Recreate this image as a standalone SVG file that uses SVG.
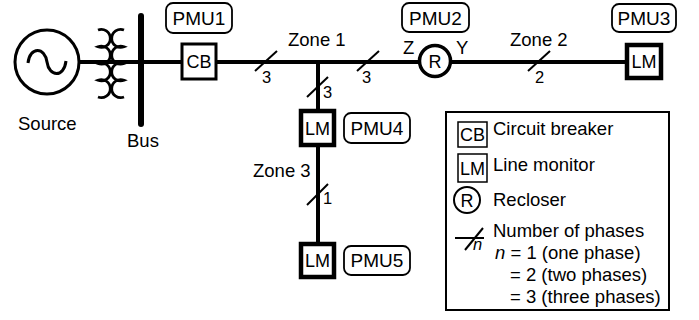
<svg xmlns="http://www.w3.org/2000/svg" width="699" height="320" viewBox="0 0 699 320">
<style>
text{font-family:"Liberation Sans",Arial,sans-serif;fill:#000}
.t{font-size:18.5px}
.b{font-size:18px;text-anchor:middle}
.p{font-size:19px;text-anchor:middle}
.n{font-size:16.5px}
.line{stroke:#000;stroke-width:4;fill:none}
.tick{stroke:#000;stroke-width:2;fill:none}
.pmu{fill:#fff;stroke:#000;stroke-width:1.8}
.cb{fill:#fff;stroke:#000;stroke-width:3}
.lm{fill:#fff;stroke:#000;stroke-width:4.5}
.coil{stroke:#000;stroke-width:2.8;fill:none}
</style>
<g id="connectors">
<line class="line" x1="79" y1="62" x2="182" y2="62"/>
<line class="line" x1="216" y1="62" x2="420" y2="62"/>
<line class="line" x1="450" y1="62" x2="627" y2="62"/>
<line class="line" x1="318" y1="62" x2="318" y2="111"/>
<line class="line" x1="318" y1="145" x2="318" y2="244"/>
<line class="tick" x1="255" y1="71" x2="277" y2="51"/>
<text class="n" x="262" y="83">3</text>
<line class="tick" x1="357" y1="71" x2="379" y2="51"/>
<text class="n" x="362" y="83">3</text>
<line class="tick" x1="528" y1="71" x2="550" y2="51"/>
<text class="n" x="535" y="83">2</text>
<line class="tick" x1="307" y1="97" x2="328" y2="77"/>
<text class="n" x="323" y="98">3</text>
<line class="tick" x1="307" y1="205" x2="328" y2="184"/>
<text class="n" x="323" y="204">1</text>
<text class="t" x="288" y="46">Zone 1</text>
<text class="t" x="510" y="46">Zone 2</text>
<text class="t" x="253" y="177">Zone 3</text>
</g>
<g id="source">
<circle cx="47" cy="62" r="32" fill="#fff" stroke="#000" stroke-width="3"/>
<path d="M28 63 C30 46 45 47 47 62 C49 77 64 78 66 61" fill="none" stroke="#000" stroke-width="3"/>
<text class="t" x="18" y="130">Source</text>
</g>
<g id="transformer">
<path class="coil" d="M98 30 A9 9 0 1 1 98 46.75 A9 9 0 1 1 98 63.5 A9 9 0 1 1 98 80.25 A9 9 0 1 1 98 97"/>
<path class="coil" d="M124 30 A9 9 0 1 0 124 46.75 A9 9 0 1 0 124 63.5 A9 9 0 1 0 124 80.25 A9 9 0 1 0 124 97"/>
</g>
<g id="bus">
<line x1="141" y1="16" x2="141" y2="124" stroke="#000" stroke-width="6" stroke-linecap="round"/>
<text class="t" x="127" y="147">Bus</text>
</g>
<g id="cb">
<rect class="cb" x="182" y="44" width="34" height="35"/>
<text class="b" x="199" y="68">CB</text>
</g>
<g id="pmu1">
<rect class="pmu" x="166" y="3" width="66" height="30" rx="7"/>
<text class="p" x="199" y="25">PMU1</text>
</g>
<g id="recloser">
<circle cx="435" cy="61" r="15.5" fill="#fff" stroke="#000" stroke-width="3.5"/>
<text class="b" x="435" y="67.5">R</text>
<text class="t" x="403" y="54">Z</text>
<text class="t" x="456" y="54">Y</text>
</g>
<g id="pmu2">
<rect class="pmu" x="402" y="3" width="67" height="29" rx="7"/>
<text class="p" x="435.5" y="24.5">PMU2</text>
</g>
<g id="lm3">
<rect class="lm" x="627" y="45" width="34" height="33"/>
<text class="b" x="644" y="68">LM</text>
</g>
<g id="pmu3">
<rect class="pmu" x="612" y="4" width="64" height="28" rx="7"/>
<text class="p" x="644" y="24.5">PMU3</text>
</g>
<g id="lm4">
<rect class="lm" x="301" y="111" width="33" height="34"/>
<text class="b" x="317.5" y="134.5">LM</text>
</g>
<g id="pmu4">
<rect class="pmu" x="344" y="113" width="66" height="30" rx="7"/>
<text class="p" x="377" y="134.5">PMU4</text>
</g>
<g id="lm5">
<rect class="lm" x="301" y="244" width="33" height="33"/>
<text class="b" x="317.5" y="267">LM</text>
</g>
<g id="pmu5">
<rect class="pmu" x="344" y="246" width="66" height="29" rx="7"/>
<text class="p" x="377" y="267">PMU5</text>
</g>
<g id="legend">
<rect x="446" y="112" width="223" height="198" fill="#fff" stroke="#000" stroke-width="2"/>
<rect x="458" y="122" width="29" height="25" fill="#fff" stroke="#000" stroke-width="1.5"/>
<text class="b" x="472.5" y="141">CB</text>
<text class="t" x="493" y="135">Circuit breaker</text>
<rect x="458" y="154" width="29" height="28" fill="#fff" stroke="#000" stroke-width="1.5"/>
<text class="b" x="472.5" y="175">LM</text>
<text class="t" x="493" y="171">Line monitor</text>
<circle cx="467" cy="200" r="13" fill="#fff" stroke="#000" stroke-width="2"/>
<text class="b" x="467" y="206.5">R</text>
<text class="t" x="493" y="206">Recloser</text>
<line class="tick" x1="455" y1="238" x2="484" y2="238"/>
<line class="tick" x1="465" y1="250" x2="483" y2="228"/>
<text class="n" x="473" y="250" font-style="italic">n</text>
<text class="t" x="493" y="237">Number of phases</text>
<text class="t" x="495" y="259"><tspan font-style="italic">n</tspan> = 1 (one phase)</text>
<text class="t" x="510" y="281">= 2 (two phases)</text>
<text class="t" x="510" y="303">= 3 (three phases)</text>
</g>
</svg>
